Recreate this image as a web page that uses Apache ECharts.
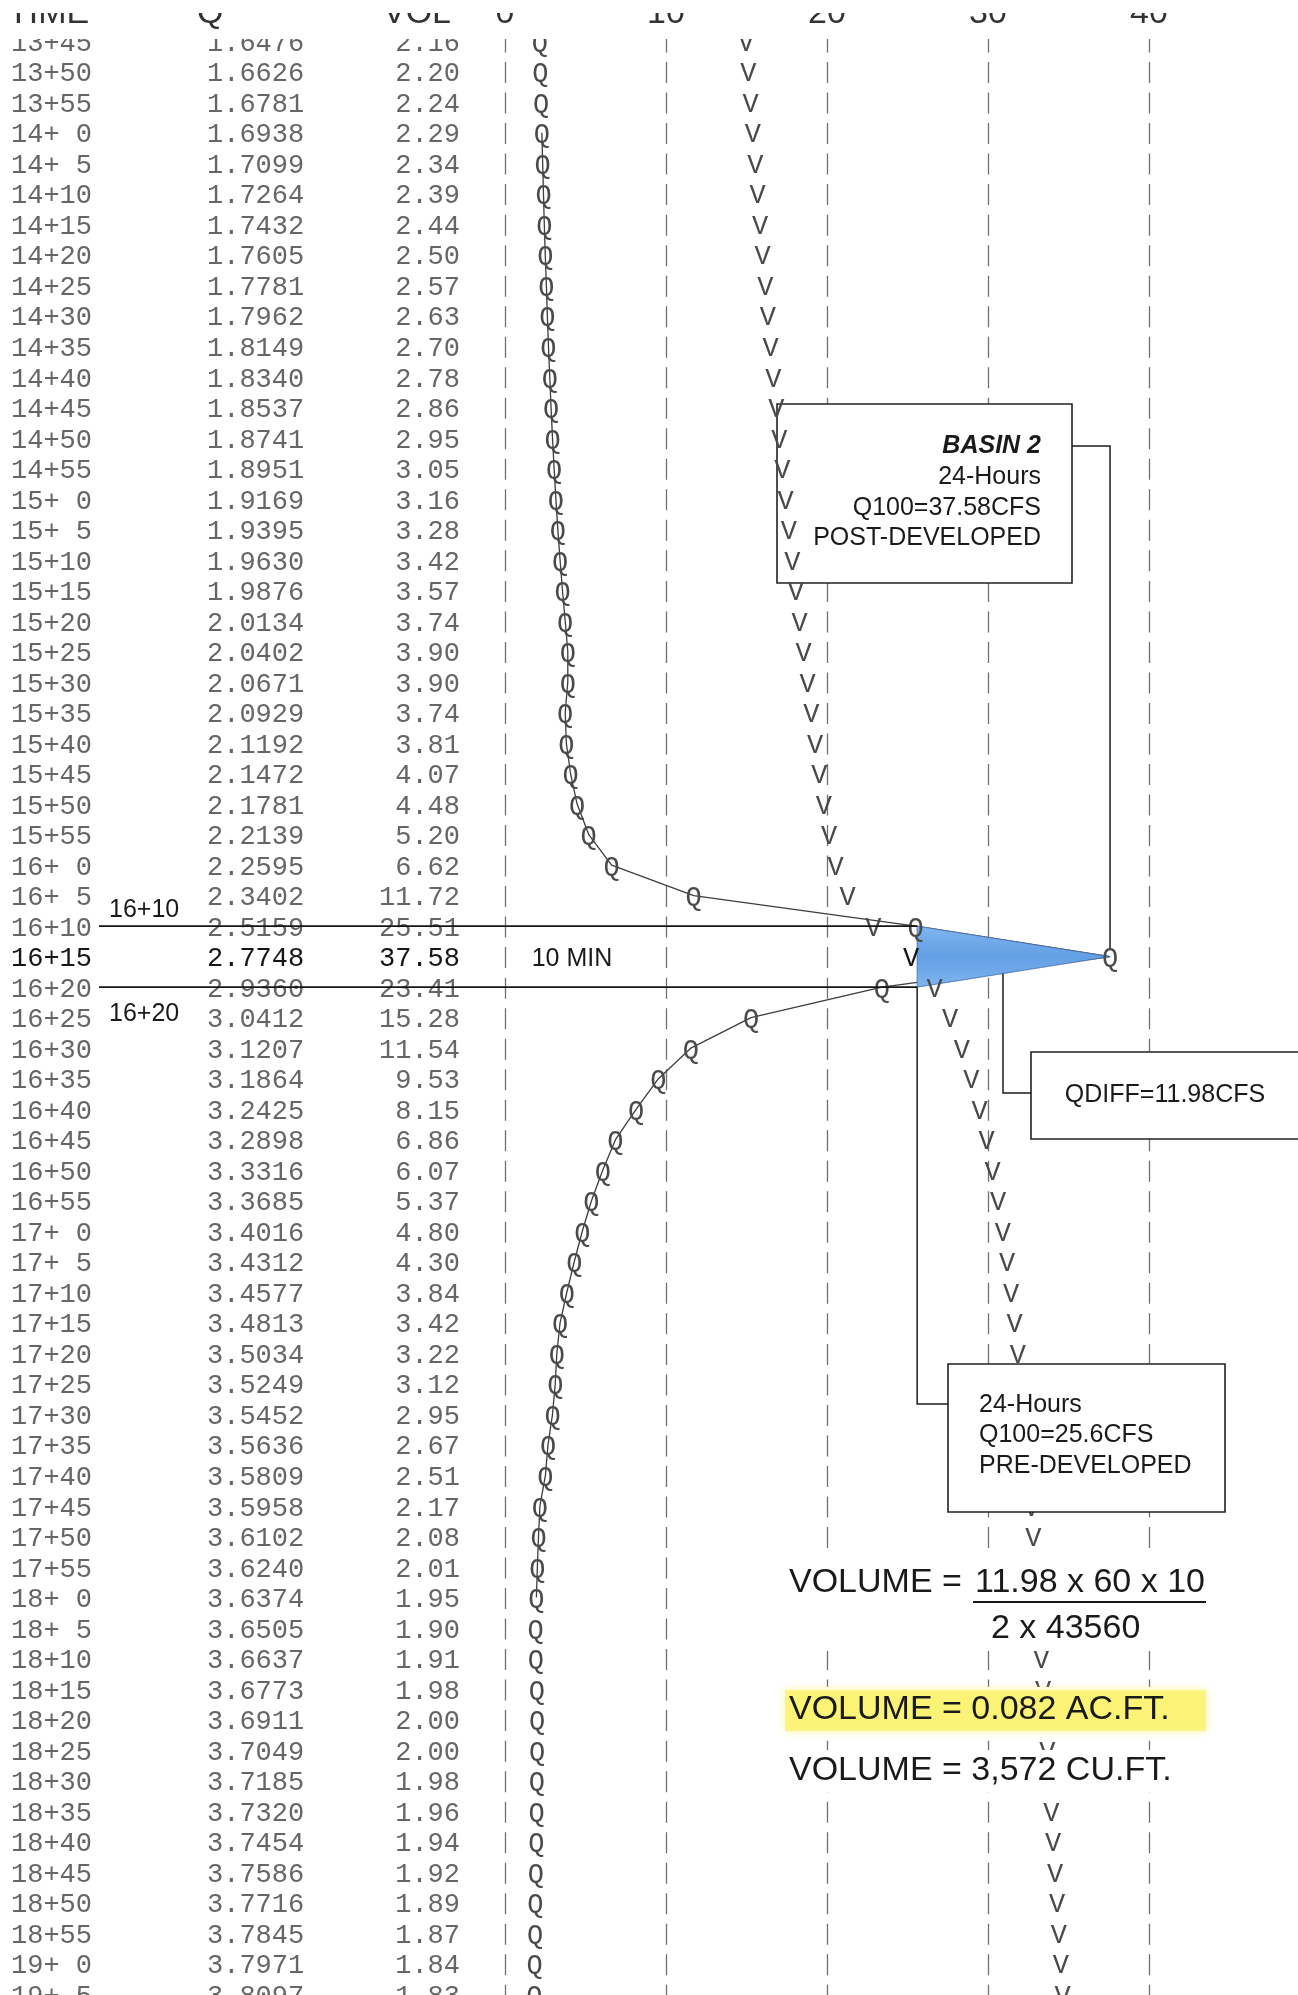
<!DOCTYPE html>
<html>
<head>
<meta charset="utf-8">
<title>Basin 2 - 24 hour hydrograph</title>
<script src="https://cdn.jsdelivr.net/npm/echarts@6.0.0/dist/echarts.min.js"></script>
<style>
html, body { margin: 0; padding: 0; background: #ffffff; }
#chart { width: 1298px; height: 1995px; }
</style>
</head>
<body>
<div id="chart"></div>
<script>
// Hydrograph printout rows: time (hr+min), cumulative volume (ac-ft), flow (cfs)
const times = [
  '13+45', '13+50', '13+55', '14+ 0', '14+ 5', '14+10', '14+15', '14+20', '14+25', '14+30',
  '14+35', '14+40', '14+45', '14+50', '14+55', '15+ 0', '15+ 5', '15+10', '15+15', '15+20',
  '15+25', '15+30', '15+35', '15+40', '15+45', '15+50', '15+55', '16+ 0', '16+ 5', '16+10',
  '16+15', '16+20', '16+25', '16+30', '16+35', '16+40', '16+45', '16+50', '16+55', '17+ 0',
  '17+ 5', '17+10', '17+15', '17+20', '17+25', '17+30', '17+35', '17+40', '17+45', '17+50',
  '17+55', '18+ 0', '18+ 5', '18+10', '18+15', '18+20', '18+25', '18+30', '18+35', '18+40',
  '18+45', '18+50', '18+55', '19+ 0', '19+ 5'
];
const cumVolume = [
  1.6476, 1.6626, 1.6781, 1.6938, 1.7099, 1.7264, 1.7432, 1.7605, 1.7781, 1.7962,
  1.8149, 1.8340, 1.8537, 1.8741, 1.8951, 1.9169, 1.9395, 1.9630, 1.9876, 2.0134,
  2.0402, 2.0671, 2.0929, 2.1192, 2.1472, 2.1781, 2.2139, 2.2595, 2.3402, 2.5159,
  2.7748, 2.9360, 3.0412, 3.1207, 3.1864, 3.2425, 3.2898, 3.3316, 3.3685, 3.4016,
  3.4312, 3.4577, 3.4813, 3.5034, 3.5249, 3.5452, 3.5636, 3.5809, 3.5958, 3.6102,
  3.6240, 3.6374, 3.6505, 3.6637, 3.6773, 3.6911, 3.7049, 3.7185, 3.7320, 3.7454,
  3.7586, 3.7716, 3.7845, 3.7971, 3.8097
];
const flow = [
  2.16, 2.20, 2.24, 2.29, 2.34, 2.39, 2.44, 2.50, 2.57, 2.63,
  2.70, 2.78, 2.86, 2.95, 3.05, 3.16, 3.28, 3.42, 3.57, 3.74,
  3.90, 3.90, 3.74, 3.81, 4.07, 4.48, 5.20, 6.62, 11.72, 25.51,
  37.58, 23.41, 15.28, 11.54, 9.53, 8.15, 6.86, 6.07, 5.37, 4.80,
  4.30, 3.84, 3.42, 3.22, 3.12, 2.95, 2.67, 2.51, 2.17, 2.08,
  2.01, 1.95, 1.90, 1.91, 1.98, 2.00, 2.00, 1.98, 1.96, 1.94,
  1.92, 1.89, 1.87, 1.84, 1.83
];

const flowTicks = [0, 10, 20, 30, 40];
const columnHeads = ['TIME', 'Q', 'VOL'];

// Peak comparison
const peakWindow = ['16+10', '16+15', '16+20'];
const tracedFrom = '14+ 0';
const tracedTo = '18+ 0';
const postQ100 = 37.58;
const preQ100 = 25.6;
const qDiff = 11.98;
const volumeNumerator = '11.98 x 60 x 10';
const volumeDenominator = '2 x 43560';
const volumeAcFt = '0.082';
const volumeCuFt = '3,572';

// Page layout
const PAGE_W = 1298;
const PLOT_LEFT = 505;          // 0 cfs column
const PLOT_RIGHT = 1149;        // 40 cfs column
const MIN_TOP = 818.25;         // minutes at top edge of sheet
const MIN_BOTTOM = 1145.15;     // minutes at bottom edge of sheet
const VOL_FULL_SCALE = 4.4;     // ac-ft spanning the same 40 columns
const COL_TIME = 11, COL_CUM = 207, COL_FLOW = 460;
const GLYPH_DROP = 2.5;         // mono glyphs sit a little below the em-box middle
const MONO = '"Liberation Mono", "DejaVu Sans Mono", monospace';
const SANS = '"Liberation Sans", Arial, sans-serif';
const TABLE_FONT = '27px ' + MONO;
const INK = '#666666';
const INK_DARK = '#161616';

const toMin = t => {
  const parts = t.split('+');
  return Number(parts[0]) * 60 + Number(parts[1]);
};
const minutes = times.map(toMin);
const peakRow = times.indexOf(peakWindow[1]);

function glyphSeries(values, xAxisIndex, glyph, z) {
  return {
    type: 'custom',
    xAxisIndex: xAxisIndex,
    yAxisIndex: 0,
    z: z,
    clip: false,
    data: values.map((v, i) => [v, minutes[i], i]),
    renderItem: function (params, api) {
      const p = api.coord([api.value(0), api.value(1)]);
      const i = api.value(2);
      return {
        type: 'text',
        x: p[0],
        y: p[1] + GLYPH_DROP,
        style: {
          text: glyph,
          font: TABLE_FONT,
          fill: i === peakRow && glyph === 'V' ? INK_DARK : '#4a4a4a',
          align: 'center',
          verticalAlign: 'middle'
        }
      };
    }
  };
}

const tracedStart = times.indexOf(tracedFrom);
const tracedEnd = times.indexOf(tracedTo);
const tracedLine = [];
for (let i = tracedStart; i <= tracedEnd; i++) tracedLine.push([flow[i], minutes[i]]);

const chart = echarts.init(document.getElementById('chart'), null, { renderer: 'canvas' });

chart.setOption({
  animation: false,
  backgroundColor: '#ffffff',
  grid: { left: PLOT_LEFT, right: PAGE_W - PLOT_RIGHT, top: 0, bottom: 0 },
  xAxis: [
    {
      type: 'value', min: 0, max: 40, interval: 10,
      axisLine: { show: false }, axisTick: { show: false }, axisLabel: { show: false },
      splitLine: {
        show: true,
        lineStyle: { color: '#707070', width: 1.3, type: [21, 9.52], dashOffset: -1 }
      }
    },
    {
      type: 'value', min: 0, max: VOL_FULL_SCALE, show: false, splitLine: { show: false }
    }
  ],
  yAxis: {
    type: 'value', inverse: true, min: MIN_TOP, max: MIN_BOTTOM, show: false,
    splitLine: { show: false }
  },
  series: [
    // printed table columns
    {
      type: 'custom',
      xAxisIndex: 0, yAxisIndex: 0, z: 5, clip: false,
      data: times.map((t, i) => [0, minutes[i], i]),
      renderItem: function (params, api) {
        const i = api.value(2);
        const y = api.coord([0, api.value(1)])[1] + GLYPH_DROP;
        const fill = i === peakRow ? INK_DARK : INK;
        const st = (text, align) => ({ text: text, font: TABLE_FONT, fill: fill, align: align, verticalAlign: 'middle' });
        return {
          type: 'group',
          children: [
            { type: 'text', x: COL_TIME, y: y, style: st(times[i], 'left') },
            { type: 'text', x: COL_CUM, y: y, style: st(cumVolume[i].toFixed(4), 'left') },
            { type: 'text', x: COL_FLOW, y: y, style: st(flow[i].toFixed(2), 'right') }
          ]
        };
      }
    },
    // hand-traced hydrograph through the Q marks
    {
      type: 'line',
      xAxisIndex: 0, yAxisIndex: 0, z: 3,
      data: tracedLine,
      symbol: 'none',
      lineStyle: { color: '#3d3d3d', width: 1.3 }
    },
    // shaded peak difference between post- and pre-developed Q100
    {
      type: 'custom',
      xAxisIndex: 0, yAxisIndex: 0, z: 4, clip: false,
      data: [[postQ100, toMin(peakWindow[1])]],
      renderItem: function (params, api) {
        const a = api.coord([preQ100, toMin(peakWindow[0])]);
        const b = api.coord([preQ100, toMin(peakWindow[2])]);
        const c = api.coord([api.value(0), api.value(1)]);
        return {
          type: 'polygon',
          shape: { points: [a, b, c] },
          style: {
            fill: new echarts.graphic.LinearGradient(0, 0, 0, 1, [
              { offset: 0, color: '#80b5f0' },
              { offset: 0.5, color: '#629fe4' },
              { offset: 1, color: '#80b5f0' }
            ]),
            stroke: 'rgba(70,110,170,0.5)',
            lineWidth: 1
          }
        };
      }
    },
    glyphSeries(flow, 0, 'Q', 5),
    glyphSeries(cumVolume, 1, 'V', 5)
  ]
});

// ---- annotations placed against the axes
const px = (x, t) => chart.convertToPixel({ xAxisIndex: 0, yAxisIndex: 0 }, [x, toMin(t)]);
const base1 = px(preQ100, peakWindow[0]);
const base2 = px(preQ100, peakWindow[2]);
const apex = px(postQ100, peakWindow[1]);
const baseX = base1[0], topY = base1[1], botY = base2[1];
const apexX = apex[0], apexY = apex[1];

const txt = (text, x, y, size, opts) => Object.assign({
  type: 'text', x: x, y: y, z: 7,
  style: Object.assign({
    text: text, font: size + 'px ' + SANS, fill: '#1a1a1a', align: 'left', verticalAlign: 'middle'
  }, (opts && opts.style) || {})
}, (opts && opts.el) || {});
const rect = (x, y, w, h, z, style) => ({
  type: 'rect', z: z, shape: { x: x, y: y, width: w, height: h },
  style: Object.assign({ fill: '#ffffff' }, style || {})
});
const line = (x1, y1, x2, y2, w) => ({
  type: 'line', z: 7, shape: { x1: x1, y1: y1, x2: x2, y2: y2 },
  style: { stroke: '#161616', lineWidth: w || 1.5 }
});
const poly = pts => ({
  type: 'polyline', z: 7, shape: { points: pts },
  style: { stroke: '#1c1c1c', lineWidth: 1.5, fill: null }
});
const boxStyle = { fill: '#ffffff', stroke: '#222222', lineWidth: 1.6 };

// QDIFF leader starts on the lower edge of the shaded wedge
const leaderX = 1003;
const leaderY = botY + (apexY - botY) * (leaderX - baseX) / (apexX - baseX);

const elements = [
  // 10-minute window markers
  line(99, topY, baseX, topY, 1.6),
  line(99, botY, baseX, botY, 1.6),
  txt(peakWindow[0], 109, topY - 16, 25),
  txt(peakWindow[2], 109, botY + 27, 25),
  txt('10 MIN', 572, apexY + 2, 25, { style: { align: 'center' } }),

  // post-developed callout
  rect(777, 404, 295, 179, 3, boxStyle),
  txt('BASIN 2', 1041, 446, 25, { style: { align: 'right', font: 'italic bold 25px ' + SANS } }),
  txt('24-Hours', 1041, 477, 25, { style: { align: 'right' } }),
  txt('Q100=' + postQ100.toFixed(2) + 'CFS', 1041, 508, 25, { style: { align: 'right' } }),
  txt('POST-DEVELOPED', 1041, 538, 25, { style: { align: 'right' } }),
  poly([[1072, 446], [apexX, 446], [apexX, apexY - 8]]),

  // pre-developed callout
  rect(948, 1364, 277, 148, 6, boxStyle),
  txt('24-Hours', 979, 1405, 25),
  txt('Q100=' + preQ100 + 'CFS', 979, 1435, 25),
  txt('PRE-DEVELOPED', 979, 1466, 25),
  poly([[baseX, botY], [baseX, 1404], [948, 1404]]),

  // difference callout
  rect(1031, 1052, 290, 87, 6, boxStyle),
  txt('QDIFF=' + qDiff.toFixed(2) + 'CFS', 1165, 1095, 25, { style: { align: 'center' } }),
  poly([[leaderX, leaderY], [leaderX, 1093], [1031, 1093]]),

  // storage volume working
  rect(780, 1556, 436, 95, 6),
  txt('VOLUME =', 789, 1583, 34),
  txt(volumeNumerator, 975, 1583, 34),
  line(973, 1602, 1206, 1602, 2),
  txt(volumeDenominator, 991, 1629, 34),
  rect(780, 1687, 436, 48, 6),
  rect(785, 1690, 421, 41, 6, { fill: 'rgba(250,242,110,0.8)', shadowBlur: 8, shadowColor: 'rgba(250,242,110,0.9)' }),
  txt('VOLUME = ' + volumeAcFt + ' AC.FT.', 789, 1710, 34),
  rect(780, 1750, 436, 42, 6),
  txt('VOLUME = ' + volumeCuFt + ' CU.FT.', 789, 1771, 34),

  // clipped page head
  rect(0, 0, PAGE_W, 39, 100),
  txt(columnHeads[0], 8, 14, 34, { el: { z: 101 }, style: { fill: '#333' } }),
  txt(columnHeads[1], 197, 14, 34, { el: { z: 101 }, style: { fill: '#333' } }),
  txt(columnHeads[2], 383, 14, 34, { el: { z: 101 }, style: { fill: '#333' } })
];
flowTicks.forEach(v => {
  const x = chart.convertToPixel({ xAxisIndex: 0 }, v);
  elements.push(txt(String(v), x, 14, 34, { el: { z: 101 }, style: { align: 'center', fill: '#333' } }));
});
elements.push(rect(0, 0, PAGE_W, 13, 102));

chart.setOption({ graphic: { elements: elements } });
</script>
</body>
</html>
